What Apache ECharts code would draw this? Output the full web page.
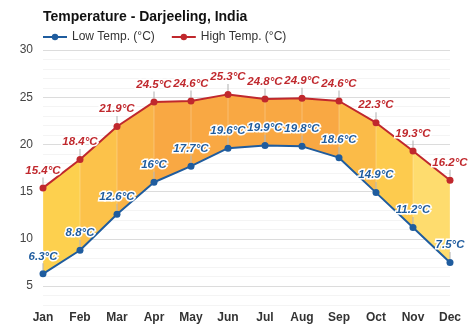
<!DOCTYPE html>
<html><head><meta charset="utf-8">
<script src="https://cdn.jsdelivr.net/npm/echarts@6/dist/echarts.min.js"></script>
<style>html,body{margin:0;padding:0;background:#fff}#c{width:474px;height:331px}</style>
</head><body><div id="c"></div>
<script>
const months = ['Jan','Feb','Mar','Apr','May','Jun','Jul','Aug','Sep','Oct','Nov','Dec'];
const lowTemp = [6.3, 8.8, 12.6, 16, 17.7, 19.6, 19.9, 19.8, 18.6, 14.9, 11.2, 7.5];
const highTemp = [15.4, 18.4, 21.9, 24.5, 24.6, 25.3, 24.8, 24.9, 24.6, 22.3, 19.3, 16.2];
const bandColors = ['#fdd04e','#fcc24a','#fab447','#f9a843','#f9a843','#f9a843','#f9a843','#f9a843','#fbbb48','#fdcb4e','#fedc6e'];

const diff = highTemp.map((h, i) => +(h - lowTemp[i]).toFixed(1));
const pieces = bandColors.map((c, i) => ({gte: i, lt: i + 1, color: c}));
pieces[pieces.length - 1].lte = bandColors.length; delete pieces[pieces.length - 1].lt;

const fontFam = 'Liberation Sans, Arial, sans-serif';
function lbl(color) {
  return {
    show: true, position: 'top', distance: 0,
    formatter: p => '{t|' + p.value + '°C}\n{l|}',
    rich: {
      t: {color: color, fontSize: 11.5, fontWeight: 'bold', fontStyle: 'italic', fontFamily: fontFam,
          textBorderColor: '#fff', textBorderWidth: 3, lineHeight: 14, align: 'center'},
      l: {width: 1, height: 7, backgroundColor: '#b0b0b0', align: 'center'}
    }
  };
}
const chart = echarts.init(document.getElementById('c'), null, {renderer: 'canvas'});
chart.setOption({
  animation: false,
  textStyle: {fontFamily: fontFam},
  title: {text: 'Temperature - Darjeeling, India', left: 38, top: 5,
    textStyle: {fontSize: 14, fontWeight: 'bold', color: '#111', fontFamily: fontFam}},
  legend: {left: 37, top: 26, itemWidth: 24, itemHeight: 8, itemGap: 16,
    data: ['Low Temp. (°C)', 'High Temp. (°C)'],
    textStyle: {fontSize: 12, color: '#333', fontFamily: fontFam}},
  grid: {left: 43, right: 24, top: 50, bottom: 26, containLabel: false},
  visualMap: {show: false, type: 'piecewise', seriesIndex: 1, dimension: 0, pieces: pieces},
  xAxis: {type: 'category', boundaryGap: false, data: months,
    axisLine: {show: false}, axisTick: {show: false}, splitLine: {show: false},
    axisLabel: {margin: 7, fontSize: 12, fontWeight: 'bold', color: '#333', fontFamily: fontFam}},
  yAxis: {type: 'value', min: 3, max: 30, interval: 1,
    axisLine: {show: false}, axisTick: {show: false},
    axisLabel: {margin: 10, fontSize: 12, color: '#444', fontFamily: fontFam,
      formatter: v => (v % 5 === 0 ? String(v) : '')},
    splitLine: {lineStyle: {width: 1, color: ['#f4f4f4','#f4f4f4','#dcdcdc','#f4f4f4','#f4f4f4']}}},
  series: [
    {type: 'line', stack: 'band', data: lowTemp, symbol: 'none', lineStyle: {opacity: 0}, silent: true, z: 1},
    {type: 'line', stack: 'band', data: diff, symbol: 'none', lineStyle: {opacity: 0}, areaStyle: {opacity: 1}, silent: true, z: 1},
    {type: 'bar', stack: 'bar', data: lowTemp, barWidth: 1, itemStyle: {color: 'rgba(0,0,0,0)'}, silent: true, z: 2},
    {type: 'bar', stack: 'bar', data: diff, barWidth: 1, itemStyle: {color: 'rgba(255,255,255,0.25)'}, silent: true, z: 2},
    {name: 'Low Temp. (°C)', type: 'line', data: lowTemp, symbol: 'circle', symbolSize: 7,
      color: '#1f5c9e', lineStyle: {width: 2, color: '#1f5c9e'}, itemStyle: {color: '#1f5c9e'},
      label: lbl('#1f5c9e'), z: 5},
    {name: 'High Temp. (°C)', type: 'line', data: highTemp, symbol: 'circle', symbolSize: 7,
      color: '#c0282d', lineStyle: {width: 2, color: '#c0282d'}, itemStyle: {color: '#c0282d'},
      label: lbl('#c0282d'), z: 5}
  ]
});
</script></body></html>
